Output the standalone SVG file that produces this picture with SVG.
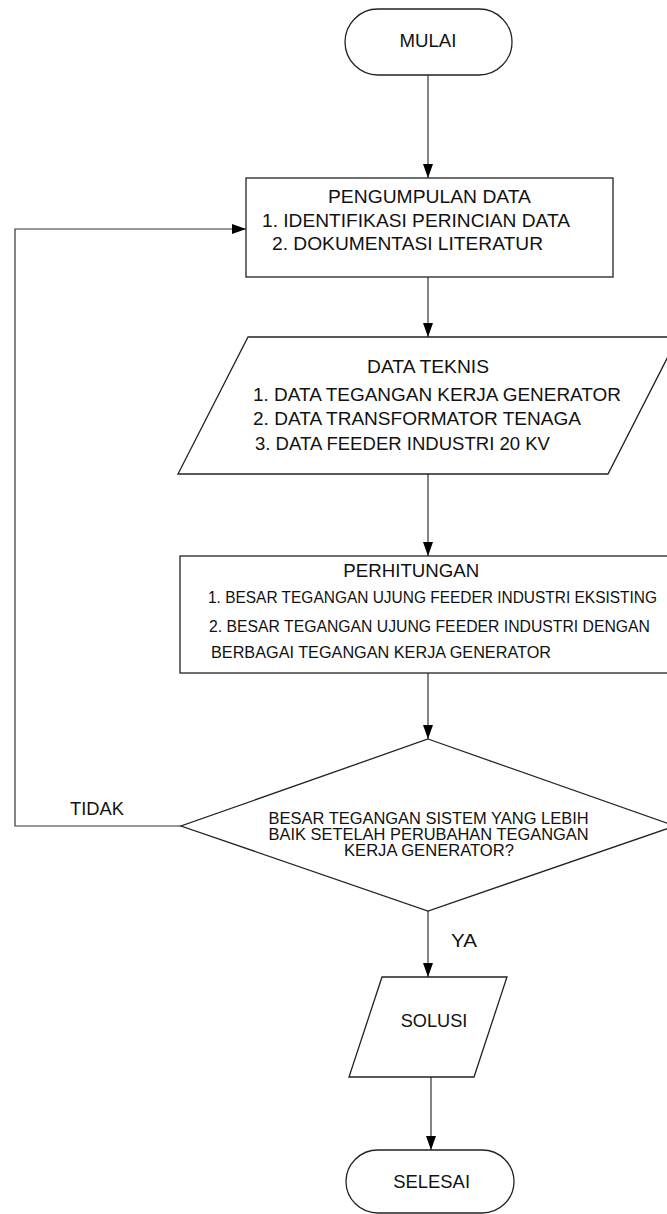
<svg xmlns="http://www.w3.org/2000/svg" width="667" height="1214" viewBox="0 0 667 1214">
<style>
.s{fill:#fff;stroke:#222;stroke-width:1.3}
.c{fill:none;stroke:#333;stroke-width:1.2}
text{font-family:"Liberation Sans",Arial,sans-serif;fill:#111}
.m{text-anchor:middle}
</style>
<defs>
<marker id="ah2" viewBox="0 0 14 10" refX="14" refY="5" markerWidth="14" markerHeight="10" markerUnits="userSpaceOnUse" orient="auto">
<path d="M0,0 L14,5 L0,10 Z" fill="#000"/>
</marker>
</defs>
<rect width="667" height="1214" fill="#fff"/>
<g id="connectors">
<path class="c" d="M428,75 V178" marker-end="url(#ah2)"/>
<path class="c" d="M428,277 V337" marker-end="url(#ah2)"/>
<path class="c" d="M428,474 V556" marker-end="url(#ah2)"/>
<path class="c" d="M428,673 V739" marker-end="url(#ah2)"/>
<path class="c" d="M181,826 H15 V229 H246" marker-end="url(#ah2)"/>
<path class="c" d="M428,911 V977" marker-end="url(#ah2)"/>
<path class="c" d="M431,1077 V1150" marker-end="url(#ah2)"/>
<text x="70" y="815" font-size="18" textLength="54" lengthAdjust="spacingAndGlyphs">TIDAK</text>
<text x="451" y="947" font-size="18.5" textLength="26" lengthAdjust="spacingAndGlyphs">YA</text>
</g>
<g id="mulai">
<rect class="s" x="345" y="9" width="167" height="66" rx="33" ry="33"/>
<text class="m" x="428" y="47" font-size="18.5" textLength="57" lengthAdjust="spacingAndGlyphs">MULAI</text>
</g>
<g id="pengumpulan">
<rect class="s" x="246" y="178" width="367" height="99"/>
<text class="m" x="429.5" y="203" font-size="19" textLength="203" lengthAdjust="spacingAndGlyphs">PENGUMPULAN DATA</text>
<text x="262" y="227" font-size="19" textLength="308" lengthAdjust="spacingAndGlyphs">1. IDENTIFIKASI PERINCIAN DATA</text>
<text x="272" y="250" font-size="19" textLength="271" lengthAdjust="spacingAndGlyphs">2. DOKUMENTASI LITERATUR</text>
</g>
<g id="data-teknis">
<polygon class="s" points="248,337 678,337 608,474 178,474"/>
<text class="m" x="428" y="373" font-size="18.6" textLength="122" lengthAdjust="spacingAndGlyphs">DATA TEKNIS</text>
<text x="253" y="400.5" font-size="18.6" textLength="368" lengthAdjust="spacingAndGlyphs">1. DATA TEGANGAN KERJA GENERATOR</text>
<text x="253" y="424.5" font-size="18.6" textLength="328" lengthAdjust="spacingAndGlyphs">2. DATA TRANSFORMATOR TENAGA</text>
<text x="255" y="449.5" font-size="18.6" textLength="295" lengthAdjust="spacingAndGlyphs">3. DATA FEEDER INDUSTRI 20 KV</text>
</g>
<g id="perhitungan">
<rect class="s" x="180" y="556" width="500" height="117"/>
<text class="m" x="411.3" y="577" font-size="18.7" textLength="136" lengthAdjust="spacingAndGlyphs">PERHITUNGAN</text>
<text x="208" y="603" font-size="16" textLength="449" lengthAdjust="spacingAndGlyphs">1. BESAR TEGANGAN UJUNG FEEDER INDUSTRI EKSISTING</text>
<text x="209" y="631.5" font-size="16" textLength="441" lengthAdjust="spacingAndGlyphs">2. BESAR TEGANGAN UJUNG FEEDER INDUSTRI DENGAN</text>
<text x="211" y="658" font-size="16" textLength="340" lengthAdjust="spacingAndGlyphs">BERBAGAI TEGANGAN KERJA GENERATOR</text>
</g>
<g id="keputusan">
<polygon class="s" points="428,739 675,826 428,911 181,826"/>
<text class="m" x="428.6" y="824" font-size="16" textLength="320" lengthAdjust="spacingAndGlyphs">BESAR TEGANGAN SISTEM YANG LEBIH</text>
<text class="m" x="428.6" y="840" font-size="16" textLength="320" lengthAdjust="spacingAndGlyphs">BAIK SETELAH PERUBAHAN TEGANGAN</text>
<text class="m" x="429" y="856" font-size="16" textLength="170" lengthAdjust="spacingAndGlyphs">KERJA GENERATOR?</text>
</g>
<g id="solusi">
<polygon class="s" points="382,977 507,977 474,1077 349,1077"/>
<text x="400.7" y="1027" font-size="18.2" textLength="66.6" lengthAdjust="spacingAndGlyphs">SOLUSI</text>
</g>
<g id="selesai">
<rect class="s" x="346" y="1150" width="168" height="63" rx="32" ry="32"/>
<text x="393.3" y="1188" font-size="18.4" textLength="76.7" lengthAdjust="spacingAndGlyphs">SELESAI</text>
</g>
</svg>
